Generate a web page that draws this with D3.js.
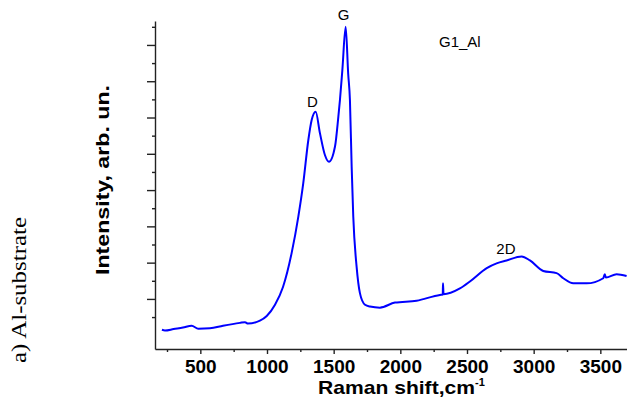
<!DOCTYPE html>
<html>
<head>
<meta charset="utf-8">
<script src="https://cdn.jsdelivr.net/npm/d3@7"></script>
<style>
  body { margin: 0; background: #fff; }
  svg { display: block; }
  .axis path, .axis line { stroke: #222; stroke-width: 1.4px; }
  .axis text { font-family: Arial, "Liberation Sans", sans-serif; font-weight: bold; font-size: 19px; fill: #000; }
</style>
</head>
<body>
<div id="chart"></div>
<script>
// Raman spectrum, G1_Al sample
var ramanShift = [212, 235, 300, 370, 435, 485, 572, 670, 797, 835,
  857, 947, 998, 1060, 1120, 1185, 1235, 1272, 1310, 1335,
  1365, 1397, 1435, 1465, 1510, 1535, 1547, 1565, 1590, 1609,
  1622, 1635, 1647, 1672, 1697, 1735, 1772, 1847, 1960, 2122,
  2297, 2318, 2320, 2324, 2447, 2522, 2648, 2722, 2797, 2910,
  2972, 3072, 3172, 3222, 3297, 3397, 3522, 3533, 3542, 3622,
  3697];
var intensity = [0.15, 0.13, 0.17, 0.21, 0.26, 0.18, 0.19, 0.26, 0.34, 0.36,
  0.32, 0.40, 0.53, 0.84, 1.33, 2.27, 3.27, 4.19, 5.38, 5.93,
  6.16, 5.57, 4.96, 4.78, 5.20, 6.02, 6.48, 7.30, 8.50, 7.20,
  6.48, 4.64, 3.27, 1.89, 1.16, 0.84, 0.79, 0.76, 0.90, 0.95,
  1.11, 1.12, 1.43, 1.13, 1.29, 1.48, 1.85, 1.98, 2.06, 2.17,
  2.06, 1.77, 1.71, 1.57, 1.43, 1.43, 1.57, 1.68, 1.59, 1.68,
  1.63];

var xTicks = d3.range(250, 3501, 250);       // every 250, labelled every 500
var yTicks = d3.range(0.5, 8.51, 0.5);       // no labels on intensity axis
var peakNames = ["D", "G", "2D"];
var peakShift = [1340, 1575, 2792];
var sampleName = "G1_Al";

var width = 627, height = 410;

var x = d3.scaleLinear().domain([160, 3700]).range([155, 627]);
var y = d3.scaleLinear().domain([-0.38, 8.66]).range([349, 21]);

var svg = d3.select("#chart").append("svg")
  .attr("width", width)
  .attr("height", height);

// axes
var xAxis = svg.append("g")
  .attr("class", "axis")
  .attr("transform", "translate(0," + y.range()[0] + ")")
  .call(d3.axisBottom(x)
    .tickValues(xTicks)
    .tickSizeOuter(0)
    .tickPadding(5)
    .tickFormat(function(v) { return v % 500 === 0 ? v : ""; }));
xAxis.selectAll(".tick line")
  .attr("y2", function(v) { return v % 500 === 0 ? 5 : 3; });

var yAxis = svg.append("g")
  .attr("class", "axis")
  .attr("transform", "translate(" + x.range()[0] + ",0)")
  .call(d3.axisLeft(y)
    .tickValues(yTicks)
    .tickSizeOuter(0)
    .tickFormat(""));
yAxis.selectAll(".tick line")
  .attr("x2", function(v) { return Number.isInteger(v) ? -8 : -3; });

// spectrum
var pts = d3.zip(ramanShift, intensity);
var line = d3.line()
  .x(function(d) { return x(d[0]); })
  .y(function(d) { return y(d[1]); })
  .curve(d3.curveMonotoneX);

svg.append("path")
  .datum(pts)
  .attr("fill", "none")
  .attr("stroke", "#0000ff")
  .attr("stroke-width", 2)
  .attr("stroke-linejoin", "round")
  .attr("d", line);

// peak labels
var labelY = [107, 20, 254];
svg.selectAll(".peak")
  .data(peakNames)
  .enter().append("text")
  .attr("class", "peak")
  .attr("x", function(d, i) { return x(peakShift[i]); })
  .attr("y", function(d, i) { return labelY[i]; })
  .attr("text-anchor", "middle")
  .style("font-family", "Arial, 'Liberation Sans', sans-serif")
  .style("font-size", "15px")
  .text(function(d) { return d; });

svg.append("text")
  .attr("x", 439)
  .attr("y", 47)
  .style("font-family", "Arial, 'Liberation Sans', sans-serif")
  .style("font-size", "15px")
  .text(sampleName);

// axis titles
var xt = svg.append("text")
  .attr("x", 318)
  .attr("y", 394)
  .style("font-family", "Arial, 'Liberation Sans', sans-serif")
  .style("font-weight", "bold")
  .style("font-size", "19px");
xt.append("tspan")
  .attr("textLength", 157)
  .attr("lengthAdjust", "spacingAndGlyphs")
  .text("Raman shift,cm");
xt.append("tspan").attr("dy", -8).style("font-size", "11px").text("-1");

svg.append("text")
  .attr("transform", "translate(109,180) rotate(-90)")
  .attr("text-anchor", "middle")
  .attr("textLength", 190)
  .attr("lengthAdjust", "spacingAndGlyphs")
  .style("font-family", "Arial, 'Liberation Sans', sans-serif")
  .style("font-weight", "bold")
  .style("font-size", "19px")
  .text("Intensity, arb. un.");

svg.append("text")
  .attr("transform", "translate(26,290) rotate(-90)")
  .attr("text-anchor", "middle")
  .attr("textLength", 146)
  .attr("lengthAdjust", "spacingAndGlyphs")
  .style("font-family", "'Liberation Serif', 'DejaVu Serif', serif")
  .style("font-size", "20px")
  .text("a) Al-substrate");
</script>
</body>
</html>
